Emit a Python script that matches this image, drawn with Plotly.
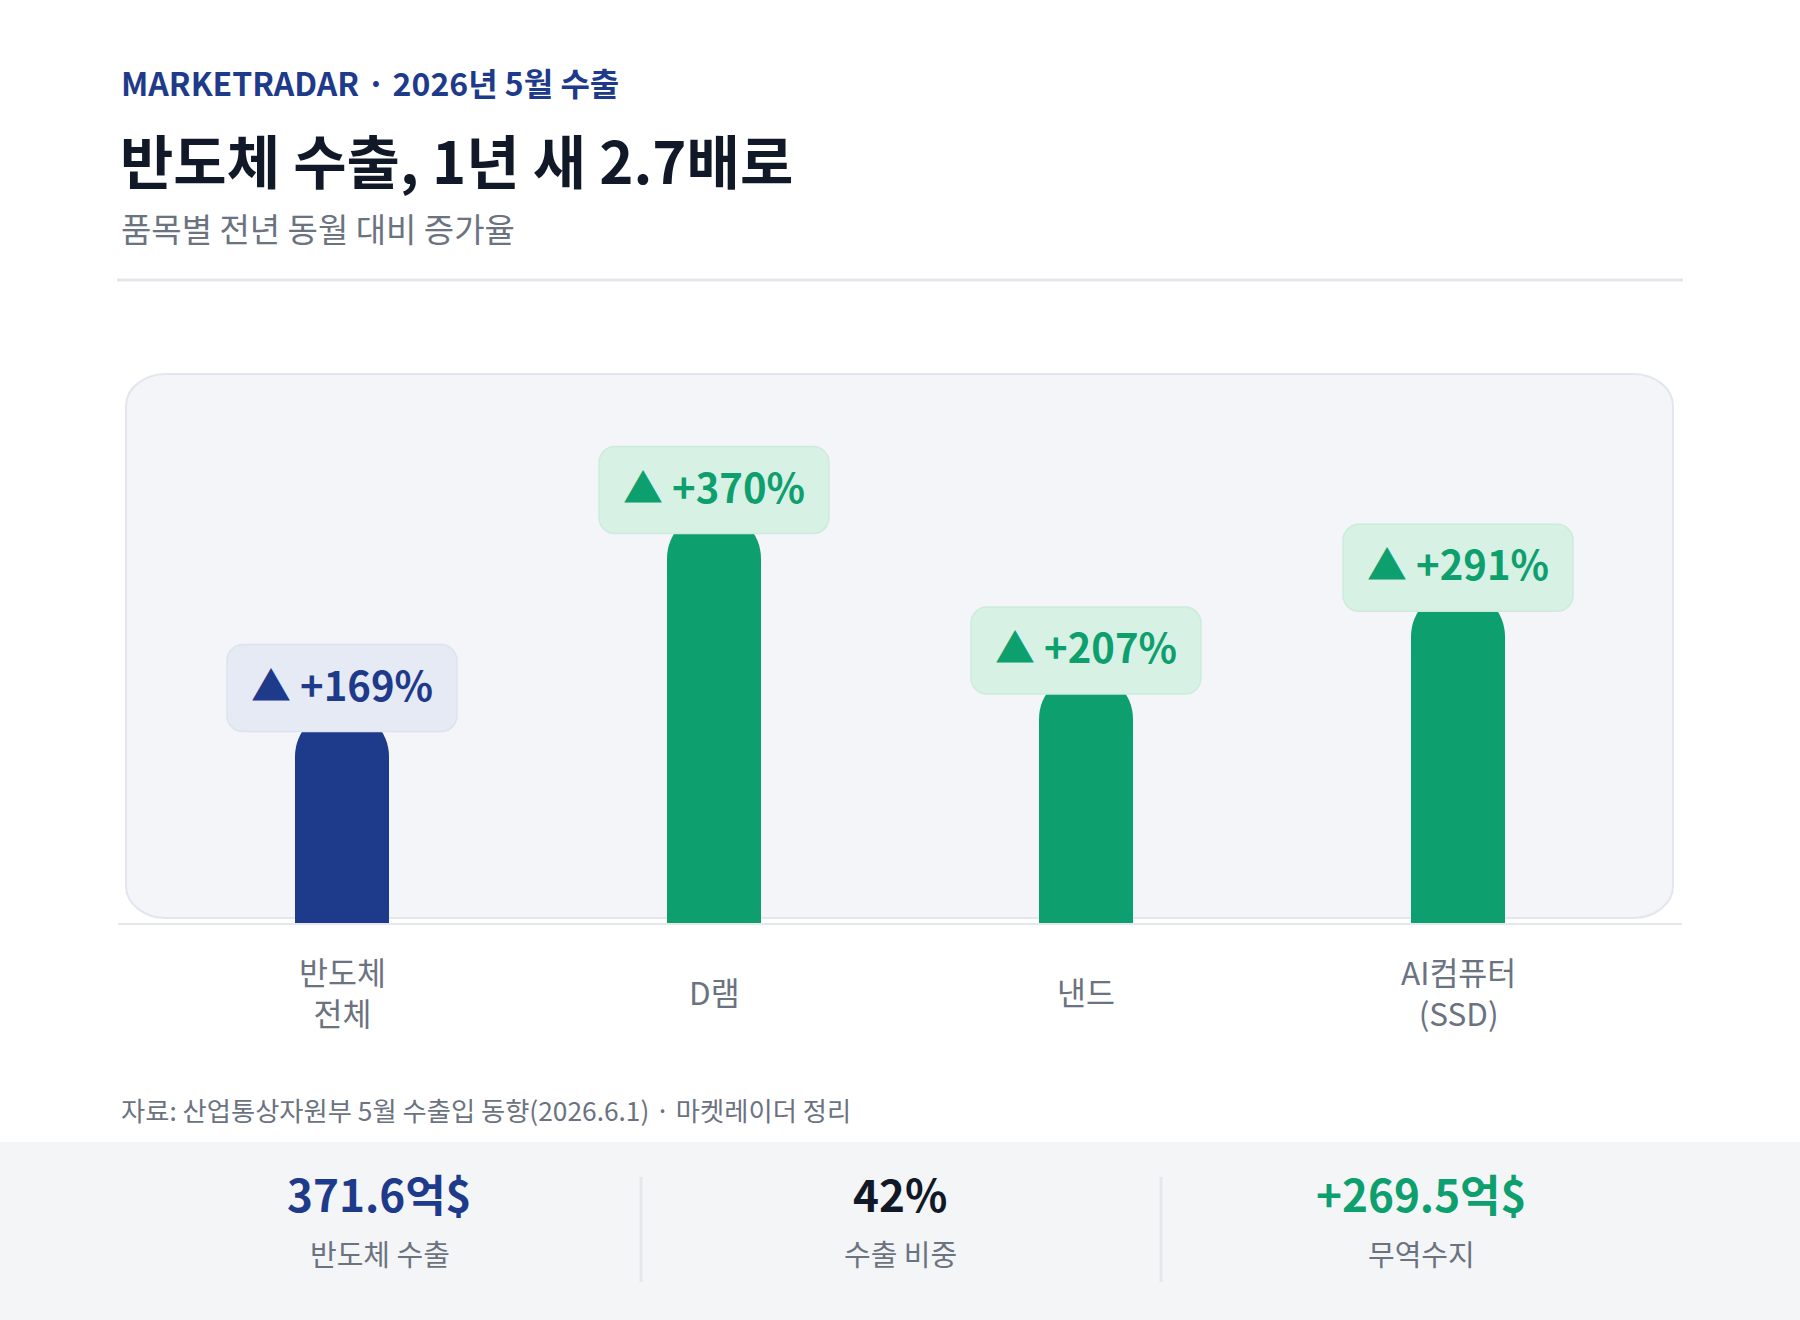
import plotly.graph_objects as go

# ---------------- data ----------------
categories = ["반도체 전체", "D램", "낸드", "AI컴퓨터 (SSD)"]
tick_labels = ["반도체<br>전체", "D램", "낸드", "AI컴퓨터<br>(SSD)"]
growth_pct = [169, 370, 207, 291]

stat_values = ["371.6억$", "42%", "+269.5억$"]
stat_labels = ["반도체 수출", "수출 비중", "무역수지"]

header_text = "MARKETRADAR · 2026년 5월 수출"
title_text = "반도체 수출, 1년 새 2.7배로"
subtitle_text = "품목별 전년 동월 대비 증가율"
source_text = "자료: 산업통상자원부 5월 수출입 동향(2026.6.1) · 마켓레이더 정리"

# ---------------- style ----------------
W, H = 1800, 1320
FONT = "Noto Sans CJK KR"
NAVY = "#1e3a8a"
GREEN = "#0e9f6e"
DARK = "#111827"
GRAY = "#6b7280"
LINE = "#e5e7eb"
PANEL = "#f4f5f8"

bar_colors = [NAVY, GREEN, GREEN, GREEN]
box_fills = ["#e6eaf5", "#d7f1e5", "#d7f1e5", "#d7f1e5"]
box_lines = ["#dde2f0", "#cdebdc", "#cdebdc", "#cdebdc"]
stat_colors = [NAVY, DARK, GREEN]


def px_x(p):
    return p / W


def px_y(p):
    return 1 - p / H


def rounded_path(x0, y0, x1, y1, rx, ry, fx, fy):
    k = 0.5523
    segs = []

    def P(x, y):
        return f"{fx(x):.6f},{fy(y):.6f}"

    segs.append("M" + P(x0 + rx, y0))
    segs.append("L" + P(x1 - rx, y0))
    segs.append("C" + P(x1 - rx + k * rx, y0) + " " + P(x1, y0 + ry - k * ry) + " " + P(x1, y0 + ry))
    segs.append("L" + P(x1, y1 - ry))
    segs.append("C" + P(x1, y1 - ry + k * ry) + " " + P(x1 - rx + k * rx, y1) + " " + P(x1 - rx, y1))
    segs.append("L" + P(x0 + rx, y1))
    segs.append("C" + P(x0 + rx - k * rx, y1) + " " + P(x0, y1 - ry + k * ry) + " " + P(x0, y1 - ry))
    segs.append("L" + P(x0, y0 + ry))
    segs.append("C" + P(x0, y0 + ry - k * ry) + " " + P(x0 + rx - k * rx, y0) + " " + P(x0 + rx, y0))
    segs.append("Z")
    return " ".join(segs)


# plot geometry (pixels)
AX_L, AX_R = 118, 1682
BASE_Y, TOP_Y = 923, 383
PX_PER_UNIT = 0.985
CAT_STEP = 372
BAR_W_PX = 94
xr = (AX_R - AX_L) / CAT_STEP
half = (xr - 3) / 2
x_range = [-half, 3 + half]
y_max = (BASE_Y - TOP_Y) / PX_PER_UNIT

fig = go.Figure()

fig.add_trace(go.Bar(
    x=categories, y=growth_pct,
    marker=dict(color=bar_colors, line=dict(width=0)),
    width=BAR_W_PX / CAT_STEP,
    hoverinfo="skip", showlegend=False,
))
fig.add_trace(go.Scatter(
    x=categories, y=growth_pct, mode="markers",
    marker=dict(size=BAR_W_PX, color=bar_colors, symbol="circle", line=dict(width=0)),
    hoverinfo="skip", showlegend=False, cliponaxis=False,
))

shapes = []
# header divider
shapes.append(dict(type="line", xref="paper", yref="paper",
                   x0=px_x(117), x1=px_x(1683), y0=px_y(280), y1=px_y(280),
                   line=dict(color=LINE, width=3), layer="below"))
# chart panel
shapes.append(dict(type="path", xref="paper", yref="paper",
                   path=rounded_path(126, 374, 1673, 918, 40, 32, px_x, px_y),
                   fillcolor=PANEL, line=dict(color="#e3e6ee", width=2), layer="below"))
# bottom stats band
shapes.append(dict(type="rect", xref="paper", yref="paper",
                   x0=0, x1=1, y0=px_y(1320), y1=px_y(1142),
                   fillcolor="#f4f5f7", line=dict(width=0), layer="below"))
for xd in (641, 1161):
    shapes.append(dict(type="line", xref="paper", yref="paper",
                       x0=px_x(xd), x1=px_x(xd), y0=px_y(1177), y1=px_y(1282),
                       line=dict(color=LINE, width=3), layer="below"))

# value label boxes, anchored to each bar top
for cat, v, fc, lc in zip(categories, growth_pct, box_fills, box_lines):
    shapes.append(dict(type="path", xref="x", yref="y",
                       xsizemode="pixel", ysizemode="pixel",
                       xanchor=cat, yanchor=v,
                       path=rounded_path(-115, 25, 115, 112, 16, 16, lambda a: a, lambda b: b),
                       fillcolor=fc, line=dict(color=lc, width=1.5), layer="above"))

annotations = []
annotations.append(dict(text=header_text, x=px_x(119), y=px_y(82), xref="paper", yref="paper",
                        xanchor="left", yanchor="middle", showarrow=False,
                        font=dict(family=FONT, size=32, color=NAVY, weight=700)))
annotations.append(dict(text=title_text, x=px_x(118), y=px_y(159), xref="paper", yref="paper",
                        xanchor="left", yanchor="middle", showarrow=False,
                        font=dict(family=FONT, size=58, color=DARK, weight=700)))
annotations.append(dict(text=subtitle_text, x=px_x(119), y=px_y(228), xref="paper", yref="paper",
                        xanchor="left", yanchor="middle", showarrow=False,
                        font=dict(family=FONT, size=33, color=GRAY)))

# category labels below the axis
LABEL_CENTER = 991
for cat, lab in zip(categories, tick_labels):
    annotations.append(dict(text=lab, x=cat, xref="x", y=px_y(LABEL_CENTER), yref="paper",
                            xanchor="center", yanchor="middle", align="center", showarrow=False,
                            font=dict(family=FONT, size=31.5, color=GRAY)))

for cat, v, col in zip(categories, growth_pct, bar_colors):
    annotations.append(dict(text=f"▲ +{v}%", x=cat, y=v, xref="x", yref="y",
                            xanchor="center", yanchor="middle", yshift=73, showarrow=False,
                            font=dict(family=FONT, size=40, color=col, weight=700)))

annotations.append(dict(text=source_text, x=px_x(119), y=px_y(1109), xref="paper", yref="paper",
                        xanchor="left", yanchor="middle", showarrow=False,
                        font=dict(family=FONT, size=26.3, color=GRAY)))

stat_centers = [379.5, 900, 1421]
for cx, val, lab, col in zip(stat_centers, stat_values, stat_labels, stat_colors):
    annotations.append(dict(text=val, x=px_x(cx), y=px_y(1193), xref="paper", yref="paper",
                            xanchor="center", yanchor="middle", showarrow=False,
                            font=dict(family=FONT, size=44, color=col, weight=700)))
    annotations.append(dict(text=lab, x=px_x(cx), y=px_y(1253), xref="paper", yref="paper",
                            xanchor="center", yanchor="middle", showarrow=False,
                            font=dict(family=FONT, size=29, color=GRAY)))

fig.update_layout(
    width=W, height=H,
    margin=dict(l=0, r=0, t=0, b=0),
    paper_bgcolor="white", plot_bgcolor="rgba(0,0,0,0)",
    font=dict(family=FONT),
    shapes=shapes, annotations=annotations,
    showlegend=False,
    xaxis=dict(type="category", categoryorder="array", categoryarray=categories,
               domain=[px_x(AX_L), px_x(AX_R)], range=x_range,
               showline=True, linecolor=LINE, linewidth=2,
               showticklabels=False, showgrid=False, zeroline=False, ticks="",
               fixedrange=True),
    yaxis=dict(domain=[px_y(BASE_Y), px_y(TOP_Y)], range=[0, y_max],
               visible=False, showgrid=False, zeroline=False, fixedrange=True),
)

fig.write_html("out.html")
